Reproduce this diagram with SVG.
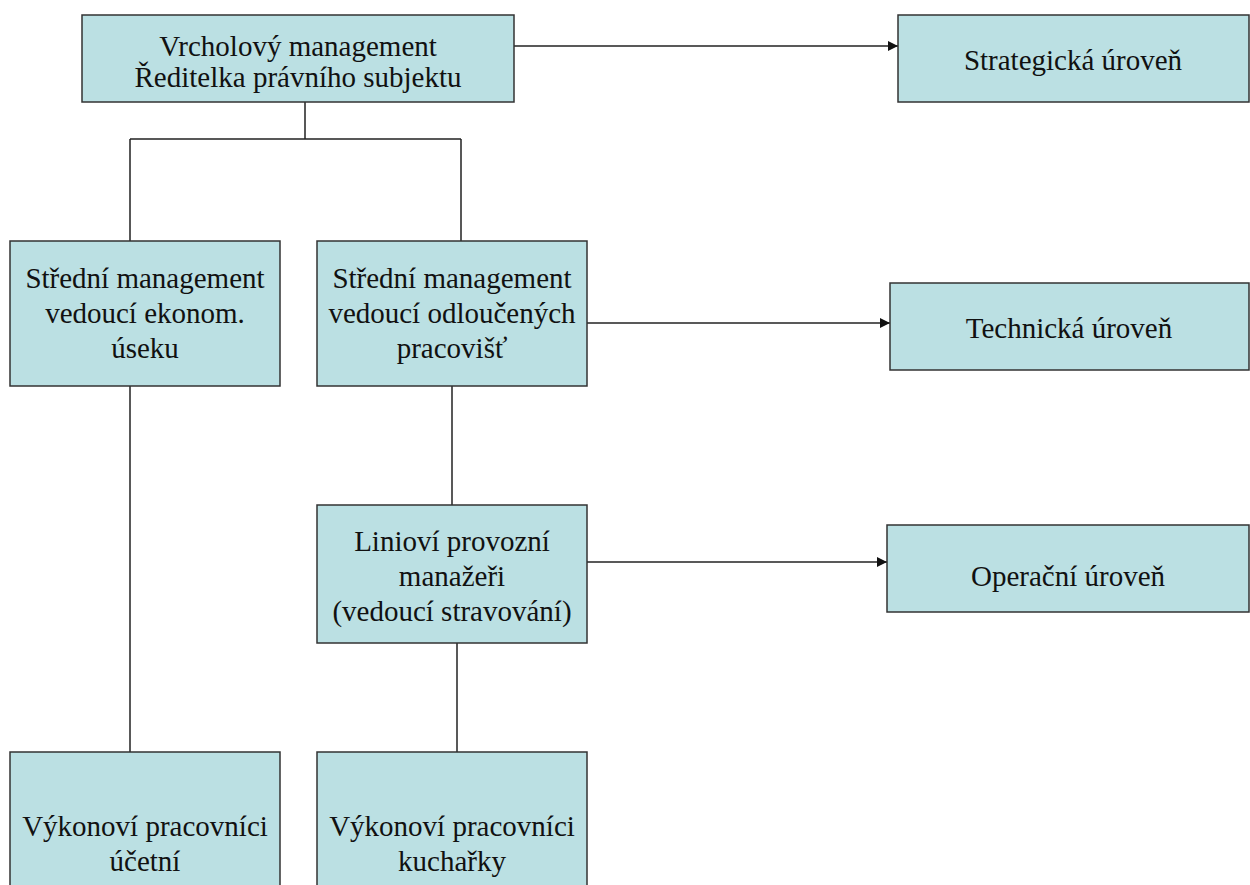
<svg xmlns="http://www.w3.org/2000/svg" width="1250" height="885" viewBox="0 0 1250 885">
<style>
.box{fill:#BBE0E3;stroke:#333;stroke-width:1.5}
.t{font-family:"Liberation Serif","Times New Roman",serif;font-size:29px;fill:#111;text-anchor:middle}
.c{stroke:#222;stroke-width:1.5;fill:none}
</style>
<defs>
<marker id="ah" markerWidth="10" markerHeight="10" refX="10" refY="5" orient="auto" markerUnits="userSpaceOnUse">
<path d="M0,0 L10,5 L0,10 Z" fill="#111"/>
</marker>
</defs>
<rect width="1250" height="885" fill="#fff"/>
<g id="connectors">
<path class="c" d="M305,99 V139 M130,139 H461 M130,139 V241 M461,139 V241"/>
<path class="c" d="M452,386 V505"/>
<path class="c" d="M130,386 V752"/>
<path class="c" d="M457,643 V752"/>
<path class="c" d="M514,46 H898" marker-end="url(#ah)"/>
<path class="c" d="M587,323 H890" marker-end="url(#ah)"/>
<path class="c" d="M587,562 H887" marker-end="url(#ah)"/>
</g>
<g id="top">
<rect class="box" x="82" y="15" width="432" height="87"/>
<text class="t" x="298" y="56">Vrcholový management</text>
<text class="t" x="298" y="87">Ředitelka právního subjektu</text>
</g>
<g id="strategic">
<rect class="box" x="898" y="15" width="351" height="87"/>
<text class="t" x="1073" y="70">Strategická úroveň</text>
</g>
<g id="mid-left">
<rect class="box" x="10" y="241" width="270" height="145"/>
<text class="t" x="145" y="288">Střední management</text>
<text class="t" x="145" y="323">vedoucí ekonom.</text>
<text class="t" x="145" y="358">úseku</text>
</g>
<g id="mid-right">
<rect class="box" x="317" y="241" width="270" height="145"/>
<text class="t" x="452" y="288">Střední management</text>
<text class="t" x="452" y="323">vedoucí odloučených</text>
<text class="t" x="452" y="358">pracovišť</text>
</g>
<g id="technical">
<rect class="box" x="890" y="283" width="359" height="87"/>
<text class="t" x="1069" y="338">Technická úroveň</text>
</g>
<g id="line-managers">
<rect class="box" x="317" y="505" width="270" height="138"/>
<text class="t" x="452" y="551">Linioví provozní</text>
<text class="t" x="452" y="586">manažeři</text>
<text class="t" x="452" y="621">(vedoucí stravování)</text>
</g>
<g id="operational">
<rect class="box" x="887" y="525" width="362" height="87"/>
<text class="t" x="1068" y="586">Operační úroveň</text>
</g>
<g id="bottom-left">
<rect class="box" x="10" y="752" width="270" height="145"/>
<text class="t" x="145" y="836">Výkonoví pracovníci</text>
<text class="t" x="145" y="871">účetní</text>
</g>
<g id="bottom-right">
<rect class="box" x="317" y="752" width="270" height="145"/>
<text class="t" x="452" y="836">Výkonoví pracovníci</text>
<text class="t" x="452" y="871">kuchařky</text>
</g>
</svg>
